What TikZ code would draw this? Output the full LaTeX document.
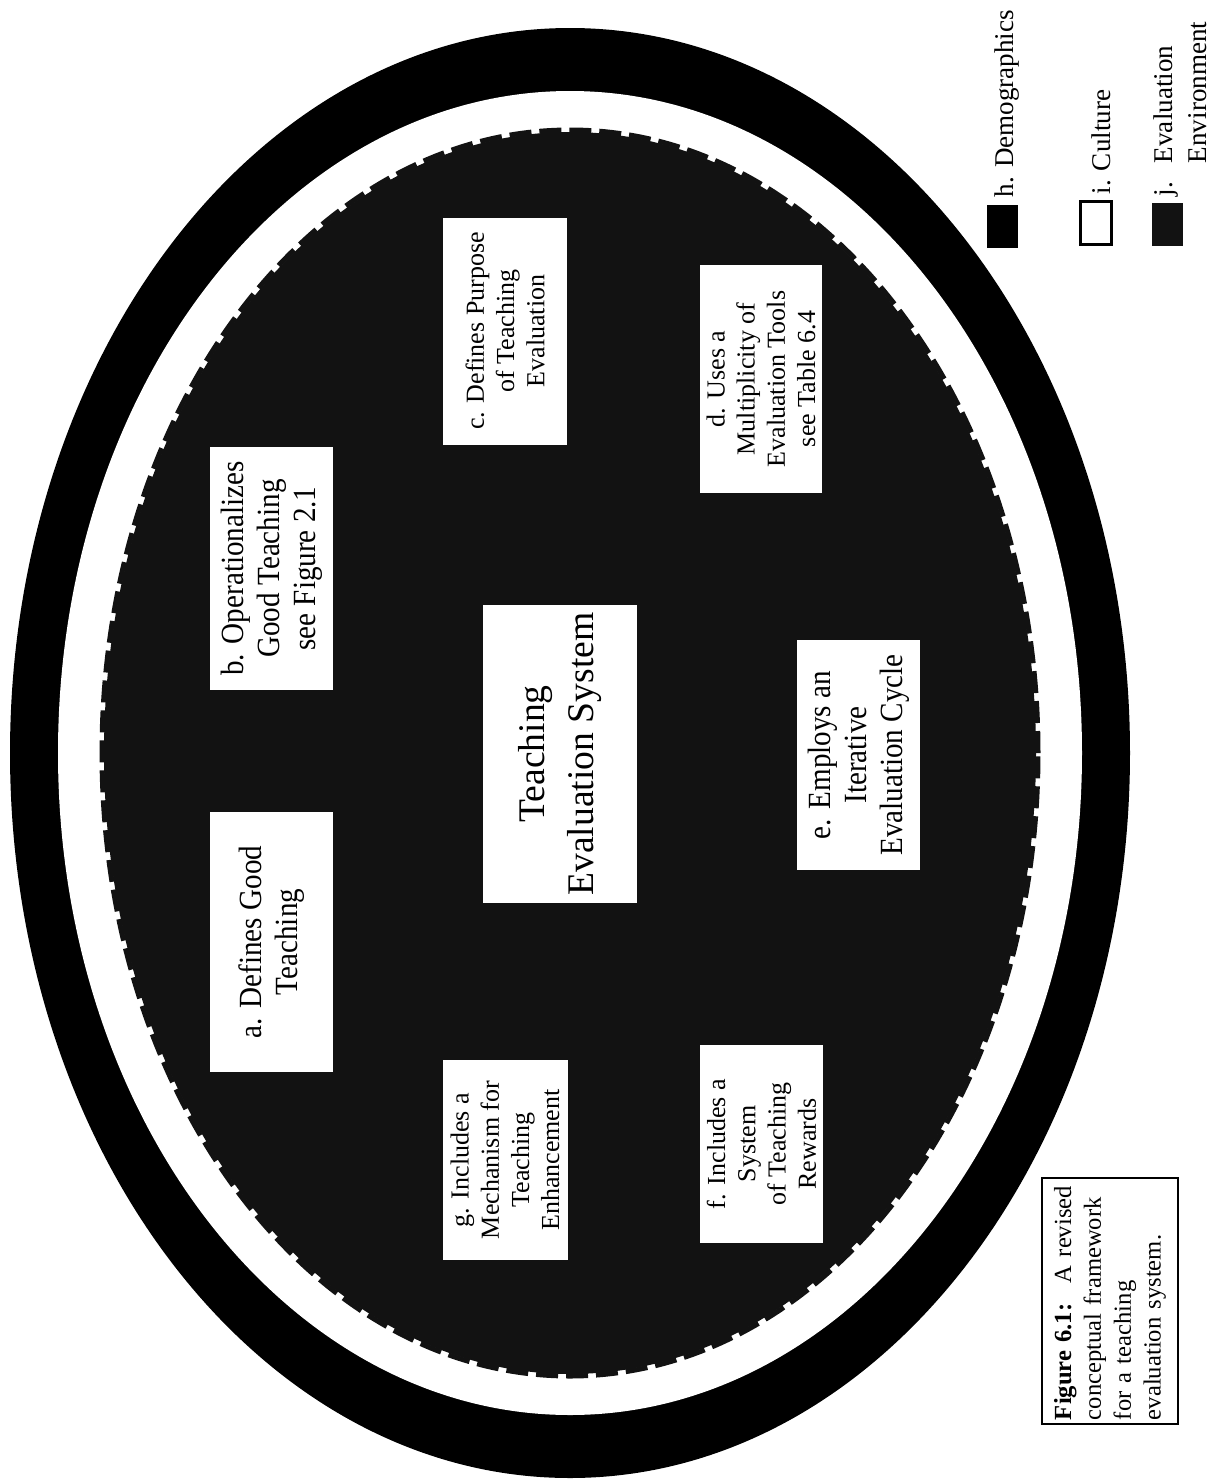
\documentclass[tikz,border=0pt]{standalone}
\usepackage{fontspec}
\setmainfont{Liberation Serif}
\newfontfamily\narrowserif[FakeStretch=0.9]{Liberation Serif}
\tikzset{
    item/.style={fill=white,rotate=90,align=center,inner sep=0.5mm,font=\fontsize{7.4}{8.6}\selectfont},
    narrowitem/.style={item,font=\narrowserif\fontsize{9.2}{10.3}\selectfont},
    legsq/.style={minimum width=3.1mm,minimum height=4.3mm,inner sep=0pt},
    legtext/.style={rotate=90,anchor=base west,inner sep=0pt,align=left,font=\fontsize{7.7}{9.4}\selectfont},
}
\begin{document}
\begin{tikzpicture}[x=0.1mm,y=-0.1mm]
        \useasboundingbox (0,0) rectangle (1210,1482);

        \fill[black] (570,753) ellipse [x radius=56mm,y radius=72.5mm];
        \fill[white] (570,753) ellipse [x radius=51.2mm,y radius=66.2mm];
        \fill[black!93] (570,753) ellipse [x radius=46.6mm,y radius=62.1mm];
        \draw[black!93,line width=0.5mm,dash pattern=on 2.2mm off 0.8mm] (570,753) ellipse [x radius=46.8mm,y radius=62.3mm];

        \node[narrowitem,minimum width=26mm,minimum height=12.3mm] (a) at (271.5,942) {a. Defines Good\\Teaching};
        \node[narrowitem,minimum width=24.3mm,minimum height=12.3mm] (b) at (271.5,568.5) {b. Operationalizes\\Good Teaching\\see Figure 2.1};
        \node[item,minimum width=22.7mm,minimum height=12.4mm] (c) at (505,331) {c. Defines Purpose\\of Teaching\\Evaluation};
        \node[item,minimum width=29.8mm,minimum height=15.4mm,font=\fontsize{10.7}{13.7}\selectfont] (tes) at (560,754) {Teaching\\Evaluation System};
        \node[item,minimum width=22.8mm,minimum height=12.2mm] (d) at (761,379) {d. Uses a\\Multiplicity of\\Evaluation Tools\\see Table 6.4};
        \node[narrowitem,minimum width=23mm,minimum height=12.3mm] (e) at (858.5,755) {e. Employs an\\Iterative\\Evaluation Cycle};
        \node[item,minimum width=19.8mm,minimum height=12.3mm] (f) at (761.5,1144) {f. Includes a\\System\\of Teaching\\Rewards};
        \node[item,minimum width=20mm,minimum height=12.5mm] (g) at (505,1160) {g. Includes a\\Mechanism for\\Teaching\\Enhancement};

        \node[legsq,fill=black] (hsq) at (1002.5,226.5) {};
        \node[legsq,draw,line width=0.3mm,fill=white] (isq) at (1096,222.5) {};
        \node[legsq,fill=black!93] (jsq) at (1167.5,224.5) {};
        \node[legtext] (hlab) at (1013,198) {h. Demographics};
        \node[legtext] (ilab) at (1110,195) {i. Culture};
        \node[legtext] (jlab) at (1206,197) {j.\hspace{0.7em}Evaluation\\\phantom{j.\hspace{0.7em}}Environment};

        \node[draw,line width=0.25mm,rotate=90,text width=23.8mm,inner xsep=0.4mm,inner ysep=1.2mm,align=left,font=\fontsize{7}{8.5}\selectfont] (cap) at (1110,1301) {\hyphenpenalty=10000 \textbf{Figure 6.1:}~ A revised\\conceptual framework\\for a teaching\\evaluation system.};
    \end{tikzpicture}
\end{document}
